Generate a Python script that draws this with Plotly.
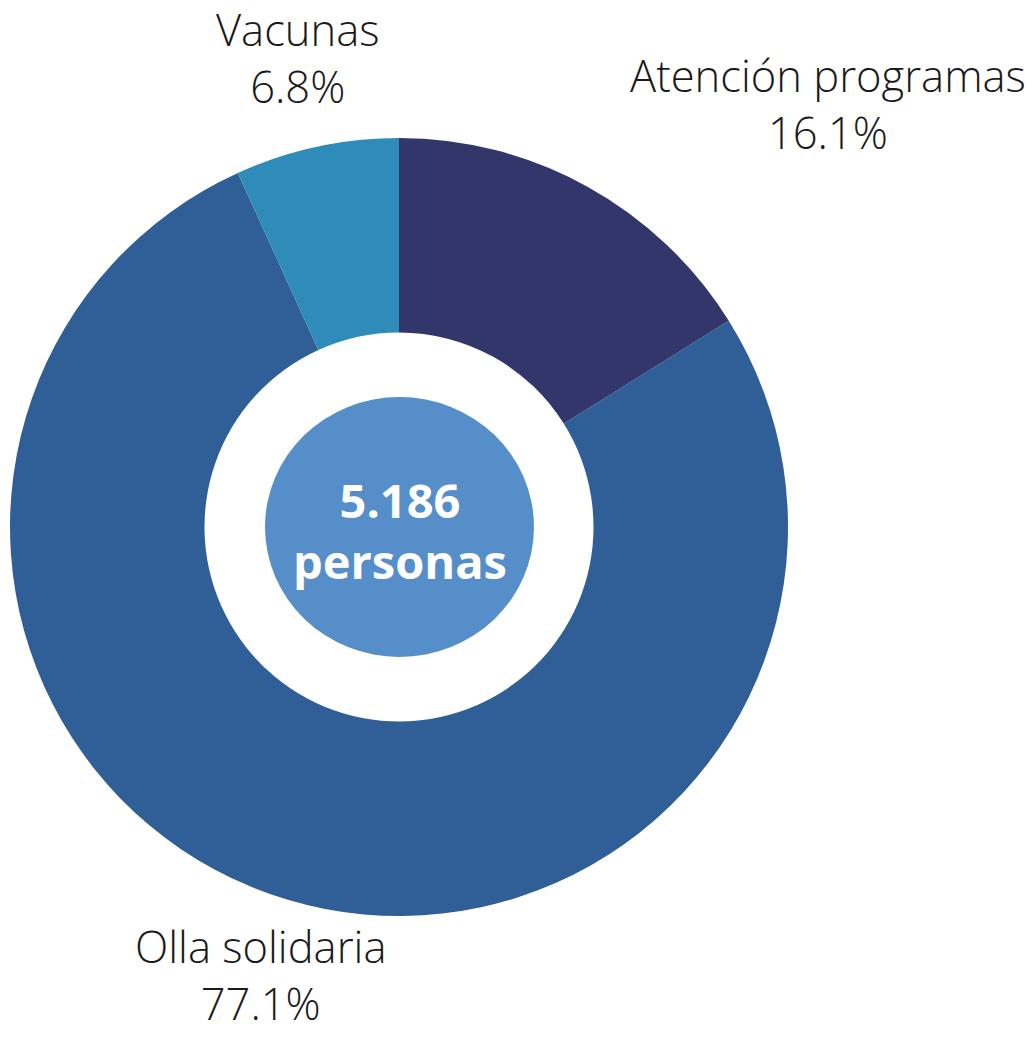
import plotly.graph_objects as go

W, H = 1036, 1039

categories = ["Atención programas", "Olla solidaria", "Vacunas"]
shares = [16.1, 77.1, 6.8]
colors = ["#32366b", "#2f5f96", "#2e8bba"]
total_label = "5.186"
total_unit = "personas"

# label anchor positions (pixels) for each category
label_pos = {"Atención programas": (828, 104), "Olla solidaria": (260, 975), "Vacunas": (298, 58)}

cx, cy, R = 399, 527, 389


def px(x):
    return x / W


def py(y):
    return 1 - y / H


fig = go.Figure(go.Pie(
    labels=categories,
    values=shares,
    sort=False,
    direction="clockwise",
    rotation=0,
    hole=0.5,
    marker=dict(colors=colors, line=dict(width=0)),
    textinfo="none",
    hoverinfo="label+percent",
    domain=dict(x=[px(cx - R), px(cx + R)], y=[py(cy + R), py(cy - R)]),
    showlegend=False,
))

fig.add_shape(type="circle", xref="paper", yref="paper",
              x0=px(265), x1=px(534), y0=py(657), y1=py(397),
              fillcolor="#558ec8", line=dict(width=0), layer="above")

font_light = dict(family="Open Sans", size=43.5, color="#1a1a1a", weight=300)
for cat, val in zip(categories, shares):
    x, y = label_pos[cat]
    fig.add_annotation(x=px(x), y=py(y), xref="paper", yref="paper",
                       text=f"{cat}<br>{val:.1f}%", showarrow=False,
                       xanchor="center", yanchor="middle", font=font_light,
                       borderpad=0)

font_bold = dict(family="Open Sans", size=47, color="white", weight=700)
fig.add_annotation(x=px(400), y=py(530), xref="paper", yref="paper",
                   text=f"{total_label}<br>{total_unit}",
                   showarrow=False, xanchor="center", yanchor="middle", font=font_bold,
                   borderpad=0)

fig.update_layout(width=W, height=H, margin=dict(l=0, r=0, t=0, b=0),
                  paper_bgcolor="white", plot_bgcolor="white")

fig.write_html("out.html", config={"displayModeBar": False},
               post_script="document.body.style.margin='0';")
